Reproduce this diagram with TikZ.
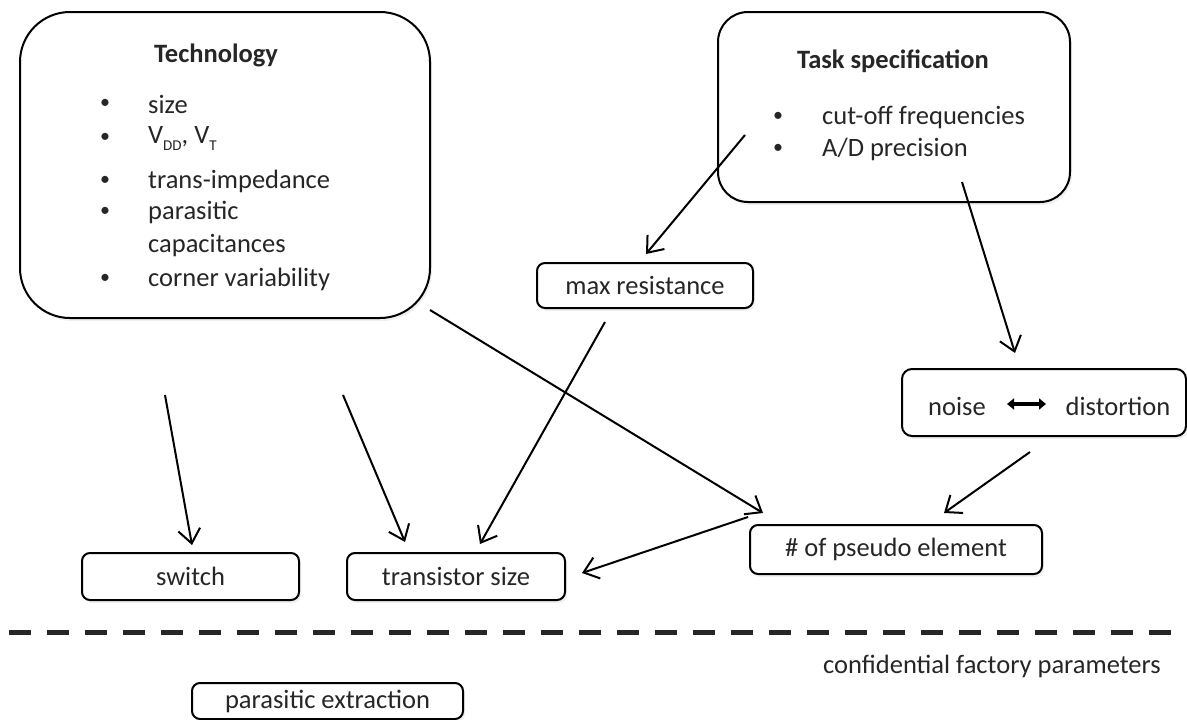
\documentclass[tikz,border=0pt]{standalone}
\usepackage{fontspec}
\setmainfont{Carlito}
\usetikzlibrary{arrows.meta,shadows}
\definecolor{txt}{HTML}{262626}
\tikzset{
  box/.style={draw=black, line width=2pt, fill=white, inner sep=0pt, text=txt,
    font=\fontsize{26.5}{30}\selectfont,
    drop shadow={opacity=0.12, shadow xshift=2pt, shadow yshift=-3pt}},
  lbl/.style={text=txt, inner sep=0pt, font=\fontsize{26.5}{30}\selectfont},
  bul/.style={text=txt, inner sep=0pt, font=\fontsize{20}{24}\selectfont},
  ttl/.style={text=txt, inner sep=0pt, font=\fontsize{26.5}{30}\selectfont\bfseries},
  conn/.style={line width=2pt, -{Straight Barb[length=14pt,width=22pt,line width=2pt]}},
}
\newcommand{\subsc}[1]{\raisebox{-7pt}{\fontsize{15}{15}\selectfont #1}}
\begin{document}
\begin{tikzpicture}[x=1pt,y=-1pt]
\useasboundingbox (0,0) rectangle (1187,720);
% boxes
\node[box, rounded corners=50pt, minimum width=410pt, minimum height=306pt] (tech) at (225,165) {};
\node[box, rounded corners=30pt, minimum width=352pt, minimum height=190pt] (task) at (894,107) {};
\node[box, rounded corners=8pt, minimum width=216pt, minimum height=45pt] (maxr) at (645,285.5) {max resistance};
\node[box, rounded corners=10pt, minimum width=284pt, minimum height=67pt] (noise) at (1044,402.5) {};
\node[box, rounded corners=8pt, minimum width=292pt, minimum height=49pt] (pseudo) at (896,549.5) {\# of pseudo element};
\node[box, rounded corners=8pt, minimum width=217pt, minimum height=47pt] (switch) at (190.5,576.5) {switch};
\node[box, rounded corners=8pt, minimum width=218pt, minimum height=47pt] (trans) at (456,576.5) {transistor size};
\node[box, rounded corners=8pt, minimum width=271pt, minimum height=36pt] (parex) at (327.5,701) {parasitic extraction};

% Technology contents
\node[ttl] (techt) at (216,55) {Technology};
\foreach \y/\n in {104/b1,138/b2,181/b3,212/b4,279/b6}{
  \node[bul] (\n) at (105,\y) {•};
}
\node[lbl, anchor=west] (t1) at (148,104) {size};
\node[lbl, anchor=west] (t2) at (148,138) {V\subsc{DD}, V\subsc{T}};
\node[lbl, anchor=west] (t3) at (148,181) {trans-impedance};
\node[lbl, anchor=west] (t4) at (148,212) {parasitic};
\node[lbl, anchor=west] (t5) at (148,246) {capacitances};
\node[lbl, anchor=west] (t6) at (148,279) {corner variability};

% Task spec contents
\node[ttl] (taskt) at (893,61) {Task specification};
\node[bul] (tb1) at (778,117) {•};
\node[bul] (tb2) at (778,149) {•};
\node[lbl, anchor=west] (tt1) at (822,117) {cut-off frequencies};
\node[lbl, anchor=west] (tt2) at (822,149) {A/D precision};

% noise <-> distortion
\node[lbl] (nz) at (957,406) {noise};
\node[lbl] (dist) at (1118,406) {distortion};
\coordinate (ndl) at (1007,404);
\coordinate (ndr) at (1046,404);
\draw[line width=3.5pt, {Triangle[length=7pt,width=11pt]}-{Triangle[length=7pt,width=11pt]}] (ndl) -- (ndr);

% confidential text
\node[lbl, anchor=east] (conf) at (1161,666) {confidential factory parameters};

% dashed separator
\coordinate (dl) at (0,632);
\coordinate (dr) at (1187,632);
\draw[line width=5pt, color=txt, dash pattern=on 22pt off 16pt, dash phase=29pt] (dl) -- (dr);

% connector end points
\coordinate (a1s) at (745,135);  \coordinate (a1e) at (646,254);
\coordinate (a2s) at (962,182);  \coordinate (a2e) at (1015,353);
\coordinate (a3s) at (1030,452); \coordinate (a3e) at (944,513);
\coordinate (a4s) at (430,310);  \coordinate (a4e) at (763,513);
\coordinate (a5s) at (165,395);  \coordinate (a5e) at (192,545);
\coordinate (a6s) at (343,395);  \coordinate (a6e) at (405,542);
\coordinate (a7s) at (605,322);  \coordinate (a7e) at (480,544);
\coordinate (a8s) at (748,517);  \coordinate (a8e) at (582,573);

\draw[conn] (a1s) -- (a1e);
\draw[conn] (a2s) -- (a2e);
\draw[conn] (a3s) -- (a3e);
\draw[conn] (a4s) -- (a4e);
\draw[conn] (a5s) -- (a5e);
\draw[conn] (a6s) -- (a6e);
\draw[conn] (a7s) -- (a7e);
\draw[conn] (a8s) -- (a8e);
\end{tikzpicture}
\end{document}
